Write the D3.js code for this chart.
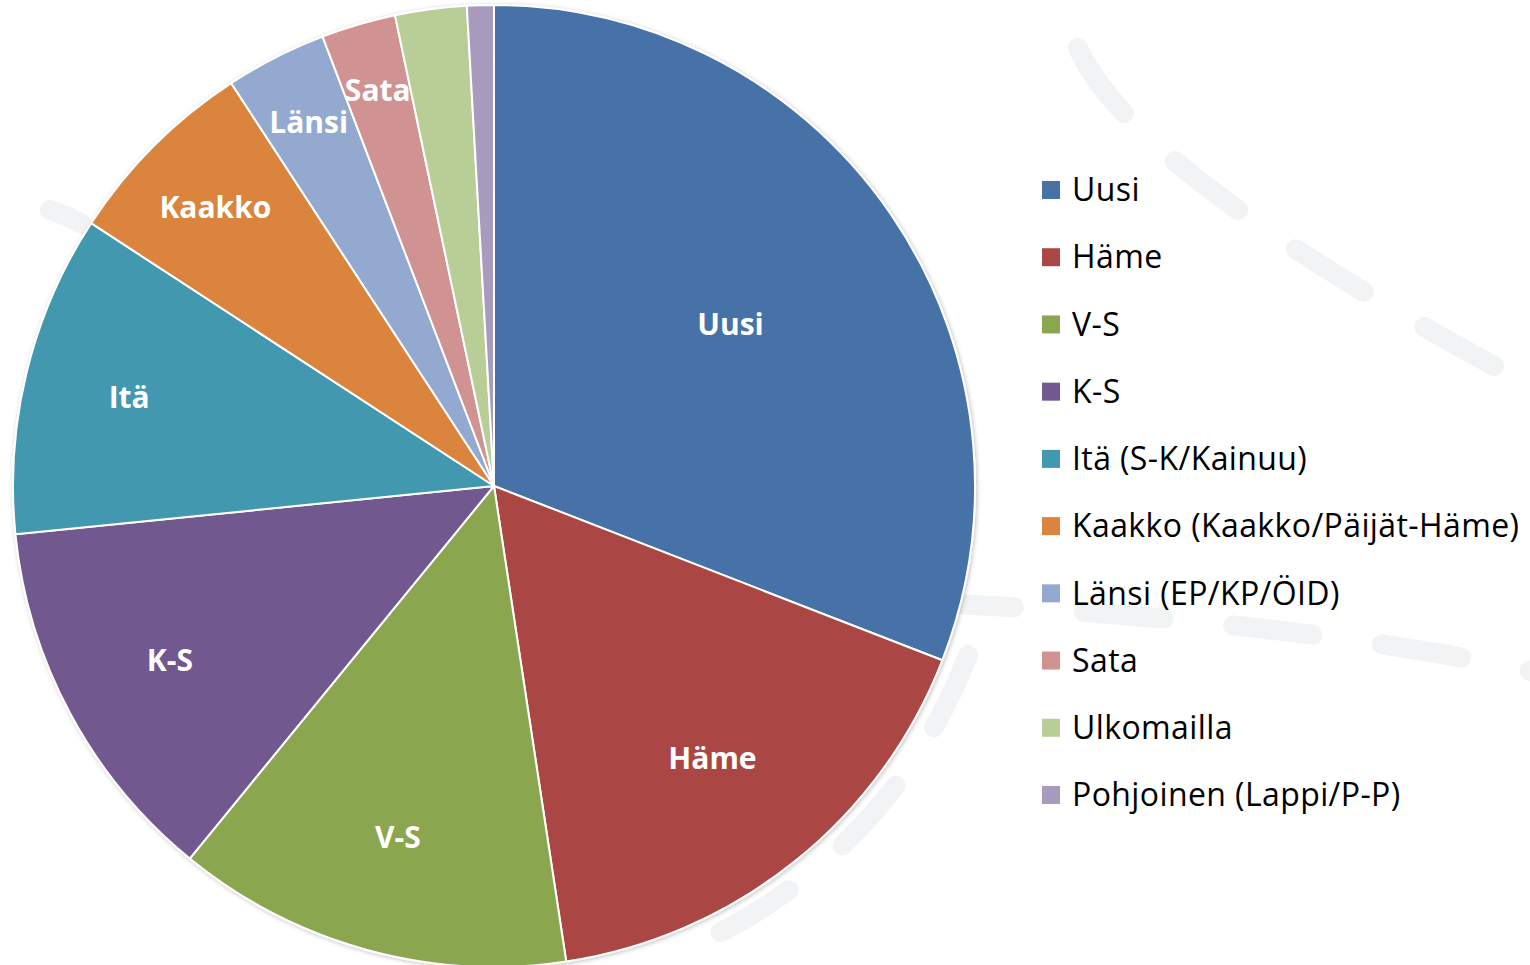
<!DOCTYPE html>
<html lang="fi">
<head>
<meta charset="utf-8">
<script src="https://d3js.org/d3.v7.min.js"></script>
<style>
    body { margin: 0; background: #fff; }
    svg { display: block; }
</style>
</head>
<body>
<script>
    // alue-jakauma (osuus %)
    var categories = ["Uusi", "Häme", "V-S", "K-S", "Itä (S-K/Kainuu)", "Kaakko (Kaakko/Päijät-Häme)",
        "Länsi (EP/KP/ÖID)", "Sata", "Ulkomailla", "Pohjoinen (Lappi/P-P)"];
    var sliceLabels = ["Uusi", "Häme", "V-S", "K-S", "Itä", "Kaakko", "Länsi", "Sata", "", ""];
    var values = [30.9, 16.7, 13.3, 12.5, 10.8, 6.6, 3.4, 2.5, 2.4, 0.9];
    var colors = ["#4672a8", "#aa4744", "#8aa64f", "#71588f", "#4298af", "#db843d",
        "#93a9d0", "#d19392", "#b9cd97", "#a99bbd"];

    var width = 1530, height = 965;
    var cx = 494, cy = 486, radius = 481;

    var svg = d3.select("body").append("svg")
        .attr("width", width)
        .attr("height", height);

    var defs = svg.append("defs");
    var shadow = defs.append("filter").attr("id", "shadow")
        .attr("x", "-5%").attr("y", "-5%").attr("width", "110%").attr("height", "110%");
    shadow.append("feDropShadow")
        .attr("dx", 1).attr("dy", 1).attr("stdDeviation", 2)
        .attr("flood-color", "#000").attr("flood-opacity", 0.25);

    // faint dashed background swooshes
    var deco = svg.append("g")
        .attr("fill", "none")
        .attr("stroke", "#f2f3f5")
        .attr("stroke-width", 20)
        .attr("stroke-linecap", "round")
        .attr("stroke-dasharray", "80,70");
    deco.append("path").attr("d", "M1078,48 C1120,140 1280,250 1505,372");
    deco.append("path").attr("d", "M50,210 C200,260 400,560 640,590 C800,600 1200,600 1535,672")
        .attr("stroke-dashoffset", 45);
    deco.append("path").attr("d", "M968,655 C920,780 830,880 705,940");

    var color = d3.scaleOrdinal().domain(categories).range(colors);

    var pie = d3.pie()
        .sort(null)
        .value(function (d) { return d.value; });

    var data = categories.map(function (c, i) {
        return { name: c, label: sliceLabels[i], value: values[i] };
    });
    var arcs = pie(data);
    var total = d3.sum(values);

    var arc = d3.arc().innerRadius(0).outerRadius(radius);

    var g = svg.append("g")
        .attr("transform", "translate(" + cx + "," + cy + ")");

    g.append("g")
        .attr("filter", "url(#shadow)")
        .selectAll("path")
        .data(arcs)
        .enter()
        .append("path")
        .attr("d", arc)
        .attr("fill", function (d) { return color(d.data.name); })
        .attr("stroke", "#fff")
        .attr("stroke-width", 2)
        .attr("stroke-linejoin", "round");

    // smaller slices get their label pushed further out
    g.selectAll("text")
        .data(arcs.filter(function (d) { return d.data.label; }))
        .enter()
        .append("text")
        .attr("transform", function (d) {
            var share = d.data.value / total;
            var r = radius * Math.min(0.89, 0.88 - share * 0.92);
            var a = (d.startAngle + d.endAngle) / 2;
            return "translate(" + (Math.sin(a) * r) + "," + (-Math.cos(a) * r) + ")";
        })
        .attr("dy", "0.36em")
        .style("text-anchor", "middle")
        .style("font-family", "'Open Sans', sans-serif")
        .style("font-weight", "bold")
        .style("font-size", "30px")
        .style("fill", "#fff")
        .text(function (d) { return d.data.label; });

    // legend
    var ly = d3.scalePoint().domain(categories).range([190, 795]);

    var legend = svg.append("g")
        .selectAll("g")
        .data(categories)
        .enter()
        .append("g")
        .attr("transform", function (d) { return "translate(1042," + ly(d) + ")"; });

    legend.append("rect")
        .attr("y", -9)
        .attr("width", 18)
        .attr("height", 18)
        .attr("fill", function (d) { return color(d); });

    legend.append("text")
        .attr("x", 30)
        .attr("dy", "0.35em")
        .style("font-family", "'Open Sans', sans-serif")
        .style("font-size", "32px")
        .style("letter-spacing", "0.4px")
        .style("fill", "#000")
        .text(function (d) { return d; });
</script>
</body>
</html>
